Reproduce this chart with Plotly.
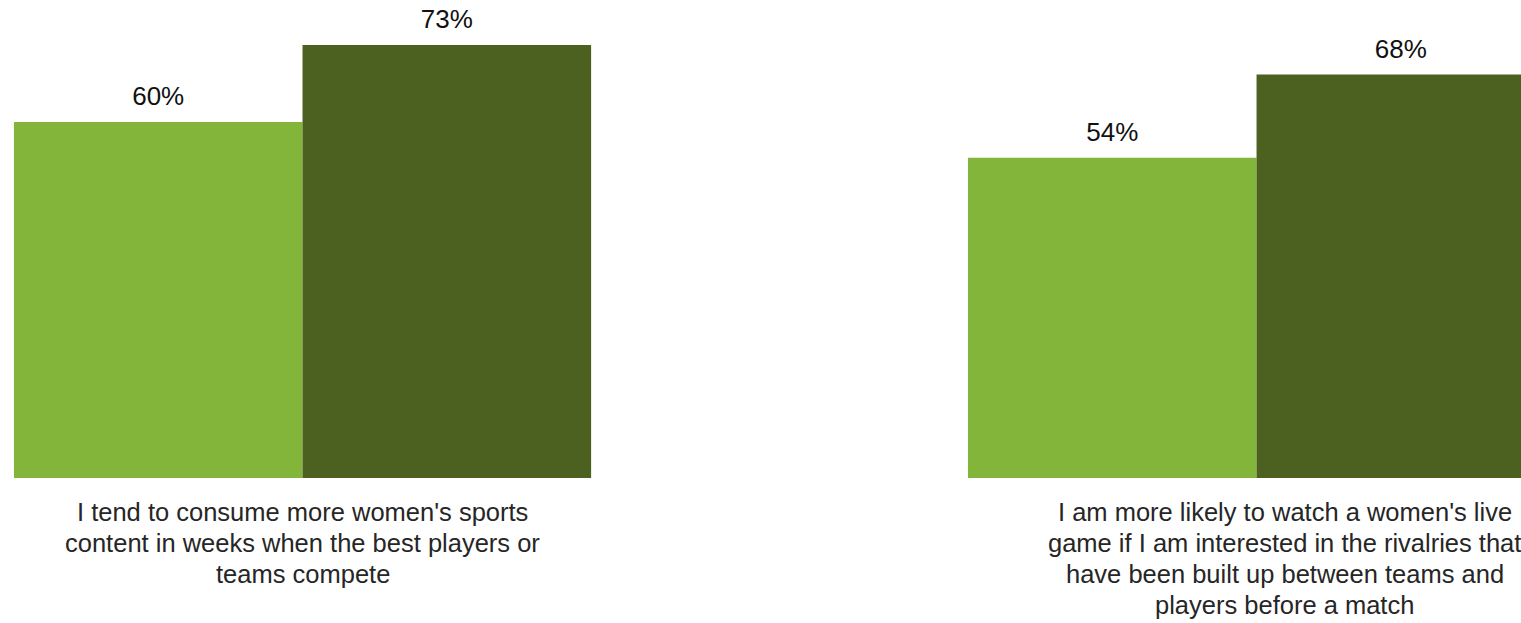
import plotly.graph_objects as go

categories = [
    "I tend to consume more women's sports<br>content in weeks when the best players or<br>teams compete",
    "I am more likely to watch a women's live<br>game if I am interested in the rivalries that<br>have been built up between teams and<br>players before a match",
]
series_a = [60, 54]
series_b = [73, 68]
series_names = ["Series A", "Series B"]
colors = ["#83B53B", "#4C601F"]

FONT = "Liberation Sans, Arial, Helvetica, sans-serif"

fig = go.Figure()
for i, (name, vals, col) in enumerate(zip(series_names, [series_a, series_b], colors)):
    fig.add_trace(go.Bar(
        x=categories, y=vals, name=name,
        marker=dict(color=col, line=dict(width=0)),
        offsetgroup=str(i), alignmentgroup="g",
        hoverinfo="skip",
    ))
    fig.add_trace(go.Scatter(
        x=categories, y=vals, name=name + " labels",
        mode="markers+text",
        marker=dict(size=15, opacity=0, color=col),
        text=[f"{v}%" for v in vals],
        textposition="top center",
        textfont=dict(family=FONT, size=26, color="#111111"),
        offsetgroup=str(i), alignmentgroup="g",
        cliponaxis=False,
        hoverinfo="skip",
    ))

# category labels, one annotation per wrapped line (line pitch 31 px)
label_shift = [0, 28]
for cat, xs in zip(categories, label_shift):
    for k, line in enumerate(cat.split("<br>")):
        fig.add_annotation(
            x=cat, y=0, xref="x", yref="y",
            text=line, showarrow=False,
            xanchor="center", yanchor="top", align="center",
            yshift=-18 - 31 * k, xshift=xs,
            font=dict(family=FONT, size=25.5, color="#262626"),
        )

fig.update_layout(
    width=1521, height=623,
    margin=dict(l=0, r=0, t=0, b=145),
    barmode="group", bargap=0.395, bargroupgap=0,
    scattermode="group", scattergap=0.395,
    showlegend=False,
    plot_bgcolor="white", paper_bgcolor="white",
    xaxis=dict(type="category", range=[-0.3171, 1.2772], showticklabels=False,
               showgrid=False, zeroline=False, showline=False, ticks=""),
    yaxis=dict(range=[0, 80.58], visible=False, showgrid=False, zeroline=False),
)

fig.write_html("out.html")
